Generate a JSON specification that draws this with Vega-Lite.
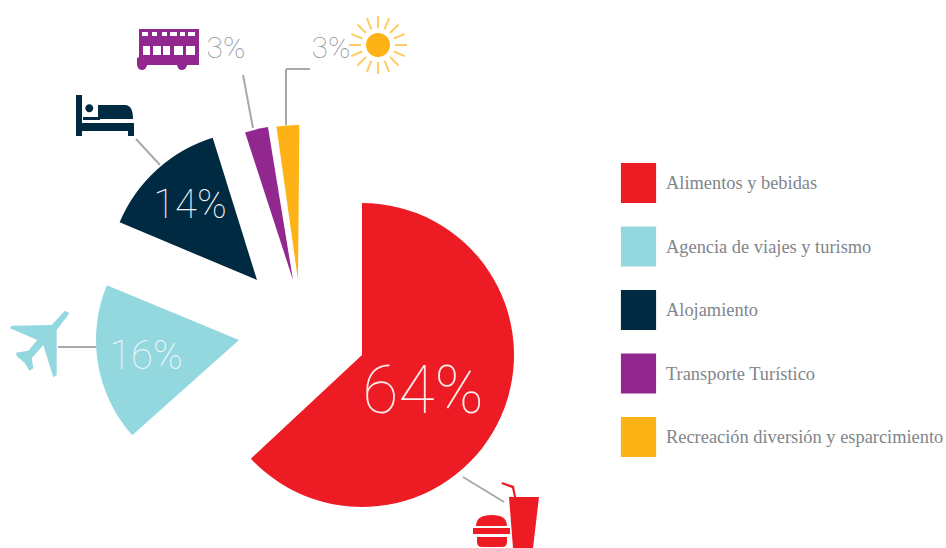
{
  "$schema": "https://vega.github.io/schema/vega-lite/v6.json",
  "width": 946,
  "height": 548,
  "autosize": {"type": "fit", "contains": "padding"},
  "padding": 0,
  "background": "white",
  "view": {"stroke": null},
  "datasets": {
    "sectores": [
      {"categoria": "Alimentos y bebidas", "pct": 64, "inicio": 0, "fin": 227, "radio": 152, "cx": 362, "cy": 355},
      {"categoria": "Agencia de viajes y turismo", "pct": 16, "inicio": 228.3, "fin": 292.5, "radio": 143, "cx": 239, "cy": 340},
      {"categoria": "Alojamiento", "pct": 14, "inicio": 292.8, "fin": 342.7, "radio": 149, "cx": 257, "cy": 280},
      {"categoria": "Transporte Turístico", "pct": 3, "inicio": 342, "fin": 350.7, "radio": 155, "cx": 293, "cy": 280},
      {"categoria": "Recreación diversión y esparcimiento", "pct": 3, "inicio": 352, "fin": 360.5, "radio": 155, "cx": 298, "cy": 280}
    ],
    "etiquetas": [
      {"texto": "64%", "x": 423, "y": 393, "grupo": "grande"},
      {"texto": "16%", "x": 146, "y": 357, "grupo": "media"},
      {"texto": "14%", "x": 190, "y": 206, "grupo": "media"},
      {"texto": "3%", "x": 226, "y": 49, "grupo": "externa"},
      {"texto": "3%", "x": 331, "y": 49, "grupo": "externa"}
    ],
    "guias": [
      {"x": 310, "y": 69, "x2": 286, "y2": 69},
      {"x": 286, "y": 69, "x2": 286, "y2": 125},
      {"x": 243, "y": 75, "x2": 253, "y2": 128},
      {"x": 136, "y": 139, "x2": 160, "y2": 165},
      {"x": 58, "y": 347, "x2": 97, "y2": 347},
      {"x": 463, "y": 477, "x2": 504, "y2": 502}
    ],
    "iconos": [
      {"icono": "comida", "categoria": "Alimentos y bebidas", "x": 510, "y": 520},
      {"icono": "avion", "categoria": "Agencia de viajes y turismo", "x": 40, "y": 343},
      {"icono": "cama", "categoria": "Alojamiento", "x": 105, "y": 115},
      {"icono": "autobus", "categoria": "Transporte Turístico", "x": 168, "y": 49},
      {"icono": "sol", "categoria": "Recreación diversión y esparcimiento", "x": 378, "y": 45}
    ],
    "rayos": [{"x": 378, "y": 45}]
  },
  "layer": [
    {
      "data": {"name": "guias"},
      "mark": {"type": "rule", "color": "#a7a9ac", "strokeWidth": 2},
      "encoding": {
        "x": {"field": "x", "type": "quantitative", "scale": {"domain": [0, 946], "nice": false, "zero": false}, "axis": null},
        "y": {"field": "y", "type": "quantitative", "scale": {"domain": [548, 0], "nice": false, "zero": false}, "axis": null},
        "x2": {"field": "x2"},
        "y2": {"field": "y2"}
      }
    },
    {
      "data": {"name": "sectores"},
      "mark": {"type": "arc"},
      "encoding": {
        "x": {"field": "cx", "type": "quantitative", "scale": {"domain": [0, 946], "nice": false, "zero": false}, "axis": null},
        "y": {"field": "cy", "type": "quantitative", "scale": {"domain": [548, 0], "nice": false, "zero": false}, "axis": null},
        "theta": {"field": "inicio", "type": "quantitative", "stack": null, "scale": {"domain": [0, 360], "range": [0, 6.283185]}},
        "theta2": {"field": "fin"},
        "radius": {"field": "radio", "type": "quantitative", "scale": {"type": "linear", "domain": [0, 500], "range": [0, 500]}},
        "color": {
          "field": "categoria",
          "type": "nominal",
          "sort": null,
          "scale": {
            "domain": ["Alimentos y bebidas", "Agencia de viajes y turismo", "Alojamiento", "Transporte Turístico", "Recreación diversión y esparcimiento"],
            "range": ["#ed1c24", "#93d7df", "#002a42", "#92278f", "#fdb215"]
          },
          "legend": {
            "title": null,
            "orient": "none",
            "legendX": 618.5,
            "legendY": 163,
            "padding": 0,
            "symbolType": "M-0.88,-1H0.88V1H-0.88Z",
            "symbolSize": 1600,
            "symbolStrokeWidth": 0,
            "symbolOpacity": 1,
            "rowPadding": 23.5,
            "labelFont": "Liberation Serif",
            "labelFontSize": 18.4,
            "labelColor": "#7f858b",
            "labelOffset": 7.5,
            "labelLimit": 400
          }
        }
      }
    },
    {
      "data": {"name": "rayos"},
      "mark": {"type": "point", "filled": false, "strokeWidth": 2, "color": "#fdb215", "opacity": 0.65, "size": 4,
        "shape": "M17,0L29,0M15.7,6.5L26.8,11.1M12,12L20.5,20.5M6.5,15.7L11.1,26.8M0,17L0,29M-6.5,15.7L-11.1,26.8M-12,12L-20.5,20.5M-15.7,6.5L-26.8,11.1M-17,0L-29,0M-15.7,-6.5L-26.8,-11.1M-12,-12L-20.5,-20.5M-6.5,-15.7L-11.1,-26.8M0,-17L0,-29M6.5,-15.7L11.1,-26.8M12,-12L20.5,-20.5M15.7,-6.5L26.8,-11.1"},
      "encoding": {
        "x": {"field": "x", "type": "quantitative", "scale": {"domain": [0, 946], "nice": false, "zero": false}, "axis": null},
        "y": {"field": "y", "type": "quantitative", "scale": {"domain": [548, 0], "nice": false, "zero": false}, "axis": null}
      }
    },
    {
      "data": {"name": "iconos"},
      "mark": {"type": "point", "filled": true, "opacity": 1, "strokeWidth": 0, "size": 4},
      "encoding": {
        "x": {"field": "x", "type": "quantitative", "scale": {"domain": [0, 946], "nice": false, "zero": false}, "axis": null},
        "y": {"field": "y", "type": "quantitative", "scale": {"domain": [548, 0], "nice": false, "zero": false}, "axis": null},
        "color": {
          "field": "categoria",
          "type": "nominal",
          "legend": null,
          "scale": {
            "domain": ["Alimentos y bebidas", "Agencia de viajes y turismo", "Alojamiento", "Transporte Turístico", "Recreación diversión y esparcimiento"],
            "range": ["#ed1c24", "#93d7df", "#002a42", "#92278f", "#fdb215"]
          }
        },
        "shape": {
          "field": "icono",
          "type": "nominal",
          "legend": null,
          "scale": {
            "domain": ["comida", "avion", "cama", "autobus", "sol"],
            "range": [
              "M-1,-23H29L23,28H3ZM6,-23L4,-34L-8,-38L-8.5,-36L2,-32L4,-23ZM-34,6Q-34,-5,-18,-5Q-3,-5,-3,6ZM-37,8H0V14H-37ZM-33,17H-3V22Q-3,27,-8,27H-28Q-33,27,-33,22Z",
              "M29.3,-29.7L16.7,-13L16.7,32L13.3,34.3L3.3,2L-8.3,15.3L-6.7,25.3L-10.7,27.7L-15,20.3L-23.3,13L-24,9.7L-11.7,7.7L-2.7,-3L-30,-14.7L-28.3,-17.3L11.7,-18L25,-32.3Z",
              "M-29,-20H-23V8H29V21H23V16H-23V21H-29ZM-7,-10H20Q28,-10,28,4H-7ZM-22,2H-5V5H-22ZM-11.7,-6.7A4,4,0,1,1,-19.7,-6.7A4,4,0,1,1,-11.7,-6.7Z",
              "M-29,-20H31V16H19Q18,21,14,21Q10,21,9,16H-21Q-22,21,-26,21Q-30,21,-31,16V9L-29,8ZM-26,-17V-13H-20V-17ZM-16,-17V-13H-11V-17ZM-6,-17V-13H-1V-17ZM2,-17V-13H9V-17ZM12,-17V-13H17V-17ZM20,-17V-13H27V-17ZM-25,-3V6H-18V-3ZM-15,-3V6H-7V-3ZM-5,-3V6H2V-3ZM6,-3V6H15V-3ZM18,-3V6H27V-3Z",
              "M12,0A12,12,0,1,1,-12,0A12,12,0,1,1,12,0Z"
            ]
          }
        }
      }
    },
    {
      "data": {"name": "etiquetas"},
      "mark": {"type": "text", "font": "Roboto", "fontWeight": 100, "align": "center", "baseline": "middle"},
      "encoding": {
        "x": {"field": "x", "type": "quantitative", "scale": {"domain": [0, 946], "nice": false, "zero": false}, "axis": null},
        "y": {"field": "y", "type": "quantitative", "scale": {"domain": [548, 0], "nice": false, "zero": false}, "axis": null},
        "text": {"field": "texto"},
        "size": {"field": "grupo", "type": "nominal", "legend": null, "scale": {"type": "ordinal", "domain": ["grande", "media", "externa"], "range": [66, 40, 30]}},
        "color": {"field": "grupo", "type": "nominal", "legend": null, "scale": {"domain": ["grande", "media", "externa"], "range": ["#fdeaea", "#f0f6f8", "#8f969d"]}}
      }
    }
  ],
  "resolve": {"scale": {"color": "independent"}}
}
